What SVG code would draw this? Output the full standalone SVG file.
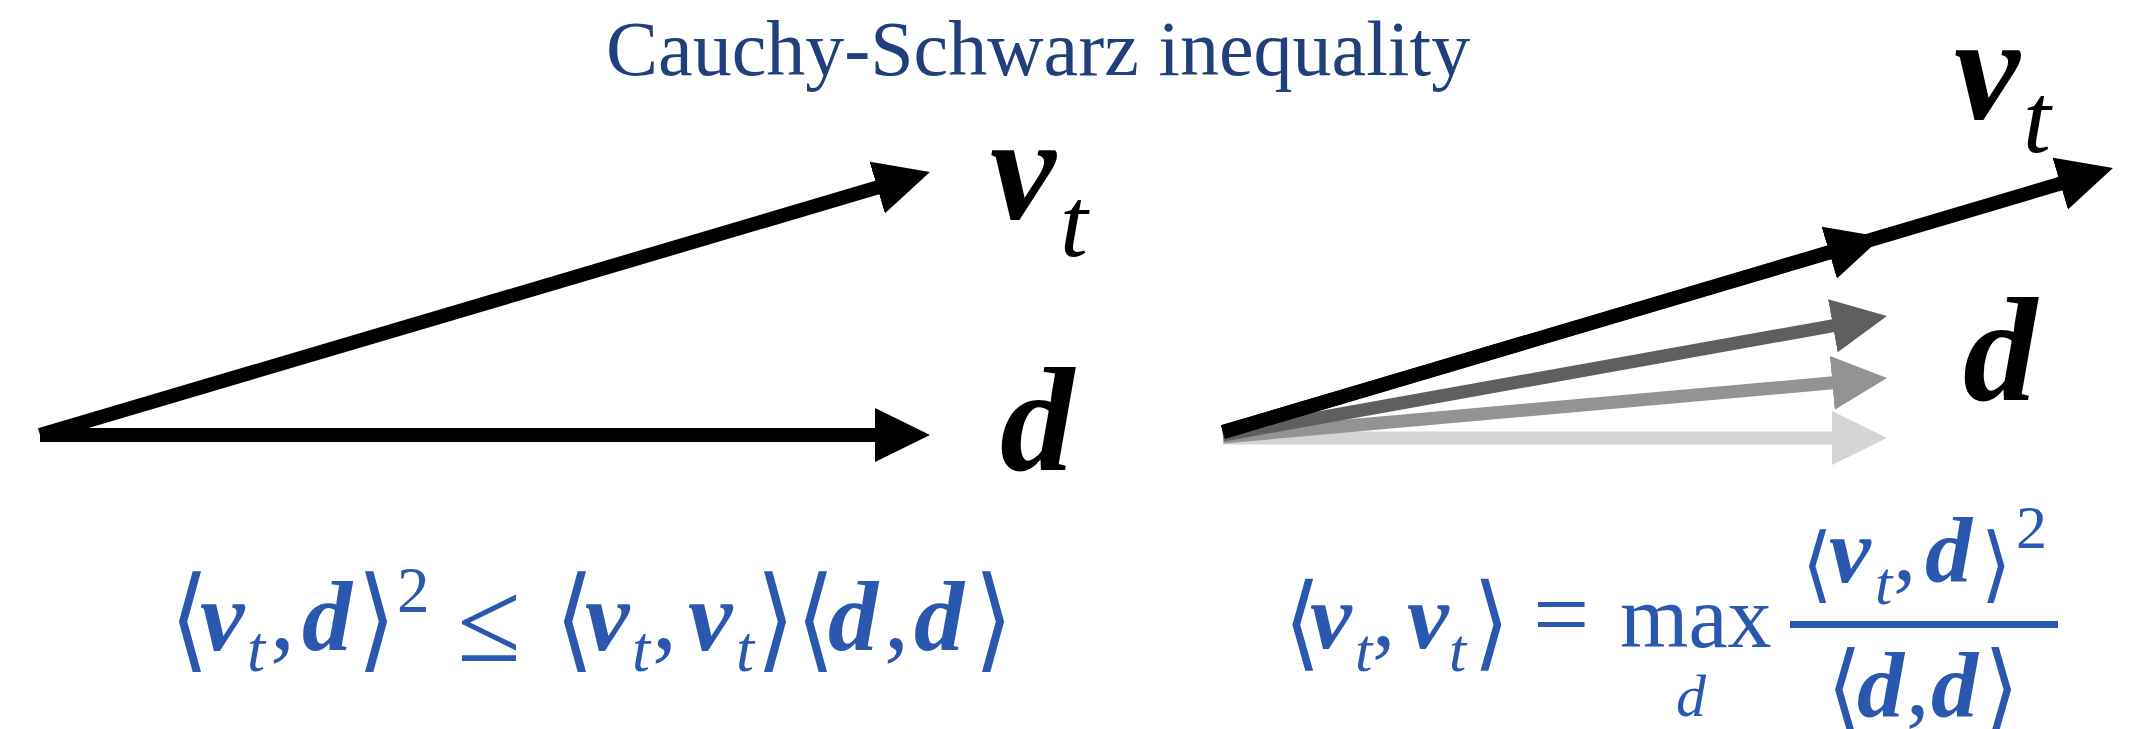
<svg xmlns="http://www.w3.org/2000/svg" width="2135" height="729" viewBox="0 0 2135 729">
<style>
text{font-family:"Liberation Serif","Times New Roman",serif}
.title{font-size:78px;fill:#203F7B}
.bi{font-weight:bold;font-style:italic}
.it{font-style:italic}
.lbl{fill:#000}
.f{fill:#2A58AF}
.br{font-family:"DejaVu Serif","DejaVu Sans",serif;font-weight:normal}
.ln{fill:none;stroke-linecap:butt}
</style>
<defs>
<marker id="hk" markerUnits="userSpaceOnUse" markerWidth="55" markerHeight="54" viewBox="0 0 55 54" refX="15" refY="27" orient="auto"><path d="M0,0 L55,27 L0,54 z" fill="#000"/></marker>
<marker id="hd" markerUnits="userSpaceOnUse" markerWidth="55" markerHeight="54" viewBox="0 0 55 54" refX="15" refY="27" orient="auto"><path d="M0,0 L55,27 L0,54 z" fill="#5F5F5F"/></marker>
<marker id="hm" markerUnits="userSpaceOnUse" markerWidth="55" markerHeight="54" viewBox="0 0 55 54" refX="15" refY="27" orient="auto"><path d="M0,0 L55,27 L0,54 z" fill="#939393"/></marker>
<marker id="hl" markerUnits="userSpaceOnUse" markerWidth="55" markerHeight="54" viewBox="0 0 55 54" refX="15" refY="27" orient="auto"><path d="M0,0 L55,27 L0,54 z" fill="#D4D4D4"/></marker>
</defs>
<rect width="2135" height="729" fill="#fff"/>
<g id="title"><text class="title" x="606" y="75">Cauchy-Schwarz inequality</text></g>

<g id="connectors">
<line class="ln" x1="40" y1="435" x2="890" y2="435" stroke="#000" stroke-width="14" marker-end="url(#hk)"/>
<line class="ln" x1="40" y1="435" x2="891.6" y2="183.3" stroke="#000" stroke-width="14" marker-end="url(#hk)"/>
<line class="ln" x1="1223" y1="438" x2="1847" y2="438" stroke="#D4D4D4" stroke-width="13" marker-end="url(#hl)"/>
<line class="ln" x1="1223" y1="437" x2="1847.2" y2="381.5" stroke="#939393" stroke-width="13" marker-end="url(#hm)"/>
<line class="ln" x1="1223" y1="435" x2="1847.6" y2="323.1" stroke="#5F5F5F" stroke-width="13" marker-end="url(#hd)"/>
<line class="ln" x1="1223" y1="432" x2="1843.6" y2="248.4" stroke="#000" stroke-width="14" marker-end="url(#hk)"/>
<line class="ln" x1="1223" y1="432" x2="2074.6" y2="179.4" stroke="#000" stroke-width="14" marker-end="url(#hk)"/>
</g>

<g id="left-vt-label" class="lbl"><text class="bi" x="990" y="219" font-size="148">v</text><text class="it" x="1060" y="256" font-size="100">t</text></g>
<g id="left-d-label" class="lbl"><text class="bi" x="1000" y="470" font-size="148">d</text></g>
<g id="right-vt-label" class="lbl"><text class="bi" x="1954" y="119" font-size="148">v</text><text class="it" x="2023" y="152" font-size="100">t</text></g>
<g id="right-d-label" class="lbl"><text class="bi" x="1963" y="400" font-size="148">d</text></g>

<g id="formula-left" class="f">
<text class="br" font-size="100" transform="translate(170,657) scale(1,1.13)">⟨</text>
<text class="bi" x="200" y="650" font-size="100">v</text>
<text class="it" x="247" y="671" font-size="65">t</text>
<text x="270" y="648" font-size="100">,</text>
<text class="bi" x="302" y="650" font-size="100">d</text>
<text class="br" font-size="100" transform="translate(357,657) scale(1,1.13)">⟩</text>
<text x="397" y="612" font-size="65">2</text>
<text x="457" y="661" font-size="116">≤</text>
<text class="br" font-size="100" transform="translate(555,657) scale(1,1.13)">⟨</text>
<text class="bi" x="585" y="650" font-size="100">v</text>
<text class="it" x="632" y="671" font-size="65">t</text>
<text x="652" y="648" font-size="100">,</text>
<text class="bi" x="688" y="650" font-size="100">v</text>
<text class="it" x="736" y="671" font-size="65">t</text>
<text class="br" font-size="100" transform="translate(756,657) scale(1,1.13)">⟩</text>
<text class="br" font-size="100" transform="translate(796,657) scale(1,1.13)">⟨</text>
<text class="bi" x="828" y="650" font-size="100">d</text>
<text x="884" y="648" font-size="100">,</text>
<text class="bi" x="914" y="650" font-size="100">d</text>
<text class="br" font-size="100" transform="translate(974,657) scale(1,1.13)">⟩</text>
</g>

<g id="formula-right" class="f">
<text class="br" font-size="94" transform="translate(1284,657) scale(1,1.1)">⟨</text>
<text class="bi" x="1310" y="648" font-size="94">v</text>
<text class="it" x="1355" y="671" font-size="62">t</text>
<text x="1372" y="646" font-size="94">,</text>
<text class="bi" x="1407" y="648" font-size="94">v</text>
<text class="it" x="1449" y="671" font-size="62">t</text>
<text class="br" font-size="94" transform="translate(1473,657) scale(1,1.1)">⟩</text>
<text x="1533" y="648" font-size="100">=</text>
<text x="1620" y="647" font-size="88">max</text>
<text class="it" x="1676" y="716" font-size="60">d</text>
<rect x="1790" y="621" width="268" height="7"/>
<text class="br" font-size="78" transform="translate(1802,592) scale(1,1.06)">⟨</text>
<text class="bi" x="1829" y="582" font-size="94">v</text>
<text class="it" x="1875" y="604" font-size="62">t</text>
<text x="1893" y="580" font-size="94">,</text>
<text class="bi" x="1925" y="582" font-size="94">d</text>
<text class="br" font-size="78" transform="translate(1981,592) scale(1,1.06)">⟩</text>
<text x="2016" y="548" font-size="62">2</text>
<text class="br" font-size="90" transform="translate(1827,720) scale(1,1.07)">⟨</text>
<text class="bi" x="1857" y="717" font-size="94">d</text>
<text x="1906" y="715" font-size="94">,</text>
<text class="bi" x="1931" y="717" font-size="94">d</text>
<text class="br" font-size="90" transform="translate(1984,720) scale(1,1.07)">⟩</text>
</g>
</svg>
